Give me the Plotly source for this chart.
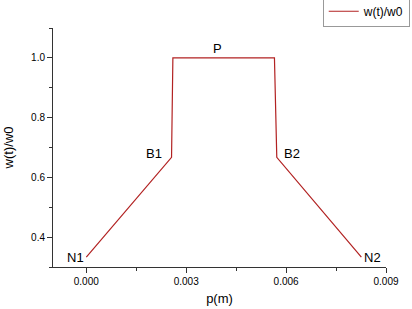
import plotly.graph_objects as go

# data
p_m = [0.0, 0.00256, 0.00260, 0.00565, 0.00572, 0.00826]
w_ratio = [0.333, 0.667, 1.0, 1.0, 0.667, 0.333]
point_labels = ["N1", "B1", "P", "B2", "N2"]
label_x = [-0.00033, 0.00204, 0.00393, 0.00618, 0.00858]
label_y = [0.333, 0.680, 1.033, 0.680, 0.333]

line_color = "#b22222"
font_family = "Liberation Sans, Arial, sans-serif"

fig = go.Figure()
fig.add_trace(go.Scatter(x=p_m, y=w_ratio, mode="lines", name="w(t)/w0",
                         line=dict(color=line_color, width=1.2)))

for t, xx, yy in zip(point_labels, label_x, label_y):
    fig.add_annotation(x=xx, y=yy, text=t, showarrow=False,
                       font=dict(size=13, color="black", family=font_family))

axis_common = dict(showline=True, linecolor="#333", linewidth=1, mirror=False,
                   showgrid=False, zeroline=False, ticks="outside", ticklen=5,
                   tickcolor="#333", tickfont=dict(size=10, color="black", family=font_family))

fig.update_xaxes(range=[-0.001, 0.009], tick0=0, dtick=0.003, tickformat=".3f",
                 minor=dict(ticks="outside", ticklen=3, dtick=0.0015, tick0=0, tickcolor="#333"),
                 title=dict(text="p(m)", font=dict(size=13, family=font_family, color="black"), standoff=7),
                 **axis_common)
fig.update_yaxes(range=[0.3, 1.1], tick0=0.4, dtick=0.2, tickformat=".1f",
                 minor=dict(ticks="outside", ticklen=3, dtick=0.1, tick0=0.3, tickcolor="#333"),
                 title=dict(text="w(t)/w0", font=dict(size=13, family=font_family, color="black"), standoff=14),
                 **axis_common)

fig.update_layout(
    width=412, height=309,
    margin=dict(l=53, r=26, t=28, b=42, autoexpand=False),
    plot_bgcolor="white", paper_bgcolor="white",
    showlegend=True,
    legend=dict(x=0.81, y=1.135, xanchor="left", yanchor="top",
                bordercolor="#999", borderwidth=1, bgcolor="white",
                font=dict(size=12, family=font_family, color="black"),
                tracegroupgap=0, itemwidth=30),
    font=dict(family=font_family),
)

fig.write_html("out.html", config={"displayModeBar": False},
               post_script="document.body.style.margin='0';")
